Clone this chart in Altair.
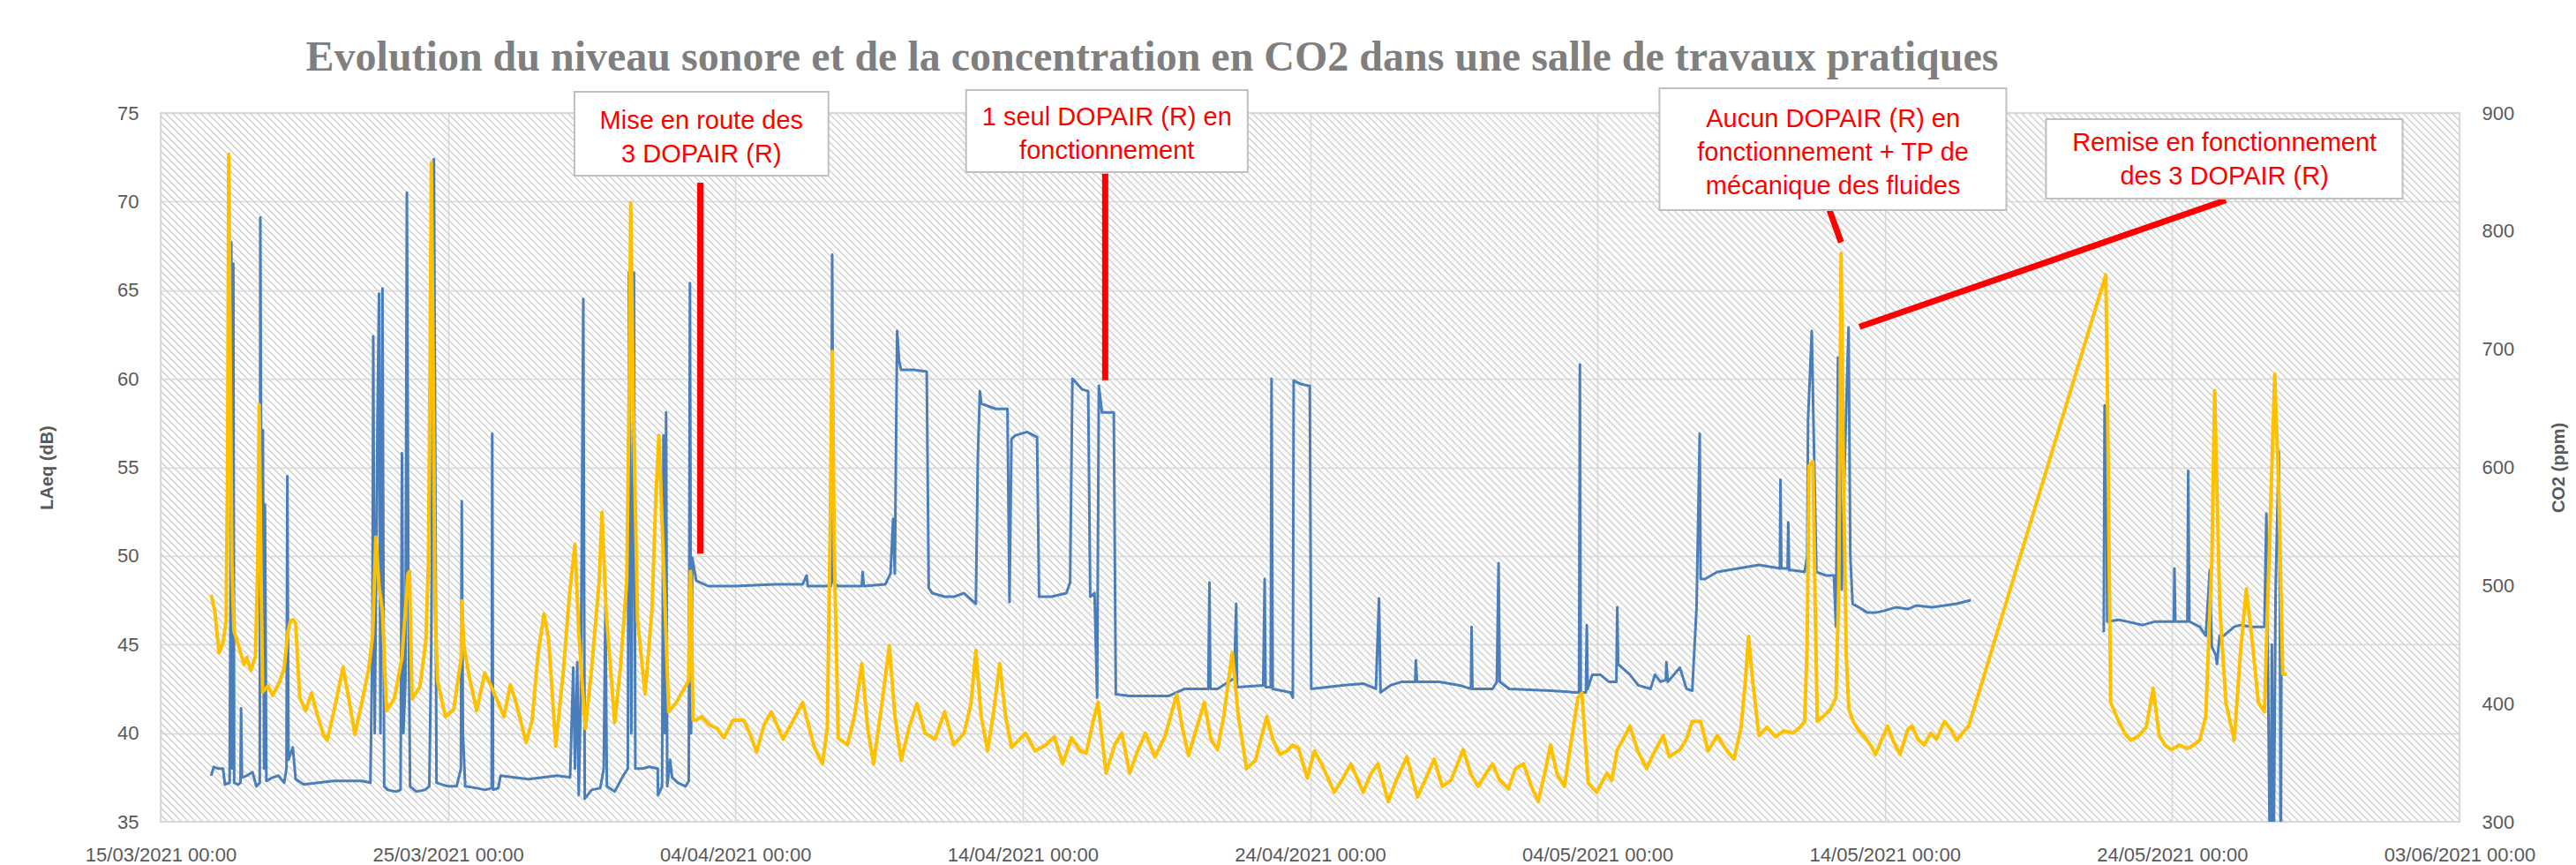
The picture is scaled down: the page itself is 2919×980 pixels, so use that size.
import altair as alt
import pandas as pd

# ---------------- data ----------------
tick_dates = ["2021-03-15", "2021-03-25", "2021-04-04", "2021-04-14", "2021-04-24",
              "2021-05-04", "2021-05-14", "2021-05-24", "2021-06-03"]
laeq_ticks = [35, 40, 45, 50, 55, 60, 65, 70, 75]
co2_ticks = [300, 400, 500, 600, 700, 800, 900]

# LAeq (dB) : days after 15/03/2021 00:00
laeq_days = [
    1.76, 1.85, 2.0, 2.17, 2.24, 2.4, 2.44, 2.46, 2.49, 2.53,
    2.56, 2.7, 2.78, 2.8, 2.83, 3.0, 3.2, 3.33, 3.45, 3.47,
    3.52, 3.56, 3.6, 3.63, 3.68, 3.9, 4.1, 4.3, 4.38, 4.41,
    4.45, 4.6, 4.7, 4.98, 5.5, 6.0, 6.5, 7.0, 7.3, 7.37,
    7.4, 7.45, 7.55, 7.6, 7.65, 7.72, 7.78, 7.9, 8.2, 8.35,
    8.4, 8.45, 8.52, 8.57, 8.62, 8.68, 8.9, 9.2, 9.35, 9.42,
    9.51, 9.56, 9.6, 10.0, 10.3, 10.45, 10.48, 10.52, 10.6, 11.0,
    11.3, 11.52, 11.54, 11.57, 11.75, 11.83, 12.3, 12.8, 13.3, 13.8,
    14.25, 14.36, 14.42, 14.5, 14.55, 14.62, 14.71, 14.76, 15.0, 15.3,
    15.42, 15.48, 15.53, 15.8, 16.1, 16.26, 16.3, 16.38, 16.47, 16.52,
    16.77, 17.0, 17.3, 17.31, 17.45, 17.5, 17.55, 17.59, 17.63, 17.73,
    17.8, 18.0, 18.27, 18.38, 18.42, 18.46, 18.5, 18.64, 19.05, 20.0,
    21.38, 22.34, 22.48, 22.52, 23.03, 23.33, 23.37, 23.42, 23.58, 24.4,
    24.43, 24.47, 25.22, 25.4, 25.49, 25.55, 25.63, 25.7, 25.77, 26.2,
    26.66, 26.73, 26.85, 27.28, 27.6, 27.96, 28.37, 28.44, 28.51, 28.56,
    29.06, 29.47, 29.54, 29.61, 29.74, 30.15, 30.5, 30.57, 31.0, 31.52,
    31.65, 31.73, 31.85, 32.07, 32.28, 32.35, 32.5, 32.59, 32.65, 32.76,
    33.17, 33.24, 33.72, 35.09, 35.64, 36.46, 36.5, 36.53, 36.78, 37.36,
    37.43, 37.46, 38.37, 38.42, 38.45, 38.63, 38.66, 38.7, 39.32, 39.4,
    39.43, 39.68, 39.99, 40.04, 41.13, 41.85, 42.29, 42.4, 42.45, 42.8,
    43.2, 43.66, 43.68, 43.72, 44.5, 45.2, 45.6, 45.62, 45.65, 46.35,
    46.5, 46.56, 46.6, 46.93, 48.37, 49.24, 49.36, 49.39, 49.42, 49.6,
    49.63, 49.66, 49.82, 50.1, 50.4, 50.66, 50.69, 50.72, 51.13, 51.42,
    51.85, 52.0, 52.2, 52.38, 52.4, 52.45, 52.87, 53.1, 53.3, 53.45,
    53.56, 53.59, 53.74, 54.17, 54.9, 55.62, 56.35, 56.37, 56.4, 56.62,
    56.64, 56.67, 56.78, 57.21, 57.3, 57.33, 57.46, 57.5, 57.62, 57.94,
    58.23, 58.3, 58.37, 58.45, 58.5, 58.6, 58.74, 58.8, 58.88, 59.1,
    59.4, 59.68, 59.96, 60.38, 60.8, 61.09, 61.65, 62.08, 62.5, 62.99,
    67.62, 67.65, 67.71, 67.74, 68.14, 68.42, 68.98, 69.41, 69.83, 70.06,
    70.08, 70.11, 70.53, 70.56, 70.6, 70.96, 71.17, 71.31, 71.38, 71.52,
    71.56, 71.65, 71.8, 72.16, 72.37, 72.79, 73.21, 73.28, 73.33, 73.42,
    73.47, 73.52, 73.6, 73.71, 73.75, 73.78, 73.8,
]
laeq_db = [
    37.6, 38.1, 38.0, 38.0, 37.1, 37.2, 50.0, 67.7, 38.0, 66.5,
    37.2, 37.1, 37.2, 41.4, 37.5, 37.6, 37.8, 37.0, 37.2, 69.1,
    45.0, 57.1, 38.0, 52.9, 37.3, 37.5, 37.6, 37.2, 38.0, 54.5,
    38.5, 39.2, 37.4, 37.1, 37.2, 37.3, 37.3, 37.3, 37.2, 45.0,
    62.4, 40.0, 58.0, 64.8, 40.0, 65.1, 37.0, 36.8, 36.7, 36.8,
    55.8, 40.0, 43.0, 70.5, 49.1, 37.0, 36.7, 36.8, 37.0, 45.0,
    72.4, 55.0, 37.2, 37.0, 37.0, 38.0, 53.1, 40.0, 37.0, 36.9,
    36.8, 36.9, 56.9, 36.8, 36.9, 37.6, 37.5, 37.4, 37.5, 37.6,
    37.5, 43.7, 38.0, 44.0, 36.5, 42.0, 64.5, 36.3, 36.8, 36.9,
    38.0, 47.2, 37.0, 36.7, 37.6, 38.0, 66.0, 40.0, 66.0, 38.0,
    38.0, 38.1, 38.0, 36.5, 37.0, 56.8, 40.0, 58.1, 37.0, 38.5,
    37.5, 37.2, 37.0, 37.3, 65.4, 40.0, 49.9, 48.6, 48.3, 48.3,
    48.4, 48.4, 48.9, 48.3, 48.3, 48.3, 67.0, 48.5, 48.3, 48.3,
    49.1, 48.3, 48.4, 49.0, 52.1, 49.0, 62.7, 61.0, 60.5, 60.5,
    60.4, 48.2, 47.9, 47.7, 47.7, 47.9, 47.3, 55.6, 59.3, 58.6,
    58.3, 58.3, 47.4, 56.6, 56.8, 57.0, 56.7, 47.7, 47.7, 47.9,
    48.5, 60.0, 59.8, 59.4, 59.3, 47.7, 47.9, 42.0, 59.6, 58.1,
    58.1, 42.2, 42.1, 42.1, 42.5, 42.5, 48.5, 42.5, 42.5, 43.1,
    47.3, 42.6, 42.7, 48.7, 42.6, 42.6, 60.0, 42.5, 42.3, 42.0,
    59.9, 59.7, 59.6, 42.5, 42.7, 42.8, 42.5, 47.6, 42.3, 42.7,
    42.9, 42.9, 44.1, 42.9, 42.9, 42.7, 42.5, 46.0, 42.5, 42.5,
    42.9, 49.6, 42.9, 42.5, 42.4, 42.3, 42.3, 60.8, 42.3, 42.3,
    46.1, 42.5, 43.3, 43.3, 42.9, 42.9, 47.1, 43.9, 43.3, 42.7,
    42.5, 43.3, 42.9, 43.0, 44.0, 42.9, 43.7, 42.5, 42.4, 47.1,
    56.9, 48.7, 48.7, 49.1, 49.3, 49.5, 49.3, 54.3, 49.3, 49.3,
    51.9, 49.2, 49.2, 49.1, 50.0, 57.7, 62.7, 59.1, 49.1, 48.9,
    48.9, 46.0, 61.2, 55.1, 48.1, 55.0, 62.9, 50.0, 47.3, 47.1,
    46.8, 46.8, 46.9, 47.1, 47.0, 47.2, 47.1, 47.2, 47.3, 47.5,
    45.7, 58.5, 58.0, 46.3, 46.4, 46.3, 46.1, 46.3, 46.3, 46.3,
    49.3, 46.3, 46.3, 54.8, 46.3, 46.0, 45.5, 49.2, 44.9, 44.4,
    43.9, 45.5, 45.5, 46.0, 46.1, 46.0, 46.0, 52.4, 44.4, 30.0,
    45.0, 30.0, 48.0, 55.9, 47.0, 30.0, 44.0,
]

# CO2 (ppm) : days after 15/03/2021 00:00
co2_days = [
    1.76, 1.89, 2.03, 2.17, 2.28, 2.33, 2.37, 2.42, 2.48, 2.55,
    2.7, 2.9, 3.0, 3.14, 3.3, 3.38, 3.43, 3.48, 3.55, 3.74,
    3.9, 4.15, 4.3, 4.43, 4.52, 4.61, 4.7, 4.84, 5.05, 5.25,
    5.4, 5.66, 5.8, 6.08, 6.35, 6.55, 6.76, 7.03, 7.24, 7.38,
    7.49, 7.6, 7.72, 7.86, 8.13, 8.4, 8.61, 8.66, 8.75, 9.02,
    9.23, 9.32, 9.38, 9.42, 9.48, 9.55, 9.64, 9.91, 10.2, 10.46,
    10.48, 10.55, 10.73, 11.0, 11.28, 11.48, 11.69, 11.95, 12.17, 12.38,
    12.72, 12.93, 13.13, 13.34, 13.5, 13.75, 14.02, 14.23, 14.42, 14.55,
    14.78, 15.0, 15.26, 15.36, 15.5, 15.8, 16.0, 16.22, 16.3, 16.36,
    16.45, 16.6, 16.86, 17.1, 17.24, 17.34, 17.5, 17.68, 17.95, 18.2,
    18.37, 18.44, 18.53, 18.64, 18.82, 19.1, 19.37, 19.6, 19.92, 20.29,
    20.5, 20.74, 21.0, 21.25, 21.66, 22.0, 22.34, 22.75, 23.03, 23.2,
    23.3, 23.37, 23.45, 23.58, 23.9, 24.15, 24.4, 24.6, 24.81, 25.1,
    25.36, 25.55, 25.77, 26.05, 26.32, 26.6, 26.95, 27.28, 27.6, 27.96,
    28.2, 28.37, 28.55, 28.78, 29.0, 29.2, 29.4, 29.61, 29.9, 30.1,
    30.43, 30.8, 31.1, 31.39, 31.7, 32.0, 32.21, 32.45, 32.62, 32.9,
    33.2, 33.45, 33.72, 34.0, 34.27, 34.6, 34.95, 35.36, 35.55, 35.77,
    36.0, 36.32, 36.55, 36.78, 37.0, 37.29, 37.5, 37.79, 38.1, 38.49,
    38.7, 38.95, 39.2, 39.39, 39.6, 39.9, 40.15, 40.4, 40.84, 41.1,
    41.42, 41.85, 42.1, 42.36, 42.72, 43.0, 43.37, 43.74, 44.0, 44.32,
    44.6, 44.9, 45.33, 45.6, 45.85, 46.1, 46.35, 46.6, 46.9, 47.15,
    47.43, 47.7, 47.94, 48.2, 48.37, 48.6, 48.85, 49.1, 49.32, 49.46,
    49.6, 49.68, 49.97, 50.33, 50.5, 50.69, 50.9, 51.13, 51.4, 51.71,
    52.0, 52.29, 52.5, 52.87, 53.1, 53.3, 53.59, 53.85, 54.17, 54.45,
    54.75, 55.0, 55.15, 55.26, 55.4, 55.62, 55.9, 56.2, 56.49, 56.8,
    57.05, 57.21, 57.3, 57.36, 57.5, 57.58, 57.65, 57.9, 58.1, 58.3,
    58.4, 58.48, 58.56, 58.66, 58.75, 58.9, 59.1, 59.26, 59.5, 59.68,
    59.9, 60.1, 60.3, 60.53, 60.8, 60.95, 61.15, 61.37, 61.6, 61.8,
    62.08, 62.3, 62.5, 62.7, 62.92, 67.69, 67.74, 67.86, 68.14, 68.35,
    68.56, 68.8, 69.1, 69.34, 69.55, 69.75, 69.97, 70.25, 70.53, 70.75,
    70.96, 71.17, 71.38, 71.48, 71.58, 71.66, 71.87, 72.16, 72.37, 72.58,
    72.8, 73.0, 73.21, 73.42, 73.57, 73.71, 73.85, 73.99,
]
co2_ppm = [
    492, 478, 443, 451, 470, 600, 865, 700, 520, 462,
    450, 433, 439, 428, 440, 520, 653, 540, 410, 415,
    407, 419, 430, 461, 470, 471, 468, 405, 394, 409,
    395, 374, 369, 399, 431, 404, 374, 404, 429, 458,
    541, 500, 478, 394, 404, 439, 510, 512, 404, 414,
    453, 520, 700, 858, 700, 480, 419, 389, 395, 439,
    487, 450, 424, 394, 426, 416, 404, 389, 416, 400,
    367, 386, 441, 476, 455, 364, 429, 493, 535, 460,
    379, 430, 503, 562, 480, 384, 430, 503, 650, 824,
    650, 470, 408, 480, 579, 627, 520, 393, 401, 412,
    419, 512, 386, 386, 389, 382, 379, 371, 386, 386,
    375, 359, 382, 393, 370, 385, 401, 363, 349, 380,
    550, 698, 520, 371, 365, 390, 434, 380, 349, 400,
    449, 390, 352, 380, 400, 375, 370, 393, 365, 375,
    400, 445, 390, 360, 395, 434, 390, 363, 370, 375,
    360, 365, 372, 349, 371, 360, 358, 385, 401, 341,
    365, 375, 341, 360, 375, 355, 372, 408, 380, 356,
    375, 401, 370, 361, 390, 443, 390, 345, 352, 389,
    370, 357, 360, 365, 362, 337, 360, 349, 325, 335,
    349, 325, 340, 349, 317, 335, 355, 321, 335, 353,
    330, 335, 361, 340, 330, 340, 349, 335, 328, 345,
    349, 330, 317, 345, 365, 340, 330, 370, 405, 409,
    360, 333, 325, 341, 335, 361, 370, 381, 360, 345,
    360, 373, 355, 361, 370, 385, 385, 360, 373, 362,
    353, 380, 420, 457, 420, 373, 380, 372, 377, 375,
    380, 385, 450, 601, 605, 480, 385, 390, 395, 405,
    500, 781, 600, 441, 395, 385, 377, 373, 365, 357,
    370, 381, 368, 357, 378, 381, 370, 365, 375, 370,
    385, 378, 369, 375, 381, 763, 681, 401, 385, 375,
    369, 372, 380, 413, 373, 365, 361, 365, 362, 365,
    369, 389, 521, 665, 560, 481, 401, 369, 441, 497,
    450, 401, 393, 561, 679, 581, 425, 425,
]

# annotations (in data units of the left axis); note_db is the first text line
note_text = ["Mise en route des\n3 DOPAIR (R)",
             "1 seul DOPAIR (R) en\nfonctionnement",
             "Aucun DOPAIR (R) en\nfonctionnement + TP de\nmécanique des fluides",
             "Remise en fonctionnement\ndes 3 DOPAIR (R)"]
note_day = [18.82, 32.93, 58.20, 71.82]
note_db = [74.55, 74.75, 74.65, 73.31]
box_day_left = [14.40, 28.03, 52.16, 65.61]
box_day_right = [23.24, 37.83, 64.23, 78.02]
box_db_top = [76.20, 76.30, 76.39, 74.65]
box_db_bottom = [71.46, 71.66, 69.52, 70.17]
arrow_day_start = [18.78, 32.87, 58.08, 59.12]
arrow_db_start = [71.07, 71.57, 69.50, 62.93]
arrow_day_end = [18.78, 32.87, 58.48, 71.87]
arrow_db_end = [50.13, 59.92, 67.70, 70.08]

TITLE = "Evolution du niveau sonore et de la concentration en CO2 dans une salle de travaux pratiques"

# ---------------- build tables ----------------
t0 = pd.Timestamp(tick_dates[0])


def to_time(days):
    return [(t0 + pd.Timedelta(days=d)).round("min") for d in days]


def dt(s):
    ts = pd.Timestamp(s)
    return alt.DateTime(year=ts.year, month=ts.month, date=ts.day)


laeq = pd.DataFrame({"t": to_time(laeq_days), "v": laeq_db})
laeq["seg"] = (laeq["t"].diff() > pd.Timedelta(days=2)).cumsum()
co2 = pd.DataFrame({"t": to_time(co2_days), "ppm": co2_ppm})
notes = pd.DataFrame({"t": to_time(note_day), "v": note_db, "label": note_text})
boxes = pd.DataFrame({"t": to_time(box_day_left), "t2": to_time(box_day_right),
                      "v": box_db_top, "v2": box_db_bottom})
arrows = pd.DataFrame({"t": to_time(arrow_day_start), "t2": to_time(arrow_day_end),
                       "v": arrow_db_start, "v2": arrow_db_end})

W, H = 2605, 803
GREY = "#595959"
FONT = "Liberation Sans"

x_enc = alt.X(
    "t:T",
    scale=alt.Scale(domain=[dt(tick_dates[0]), dt(tick_dates[-1])], nice=False),
    axis=alt.Axis(values=[dt(s) for s in tick_dates], format="%d/%m/%Y %H:%M",
                  labelFontSize=22, labelColor=GREY, labelFont=FONT, labelPadding=27,
                  labelFlush=False, labelOverlap=False, labelBaseline="top",
                  ticks=False, tickSize=0, domain=False, grid=True,
                  gridColor="#d9d9d9", gridWidth=1.5, title=None),
)
y_left = alt.Y(
    "v:Q",
    scale=alt.Scale(domain=[35, 75], nice=False, zero=False),
    axis=alt.Axis(values=laeq_ticks, title="LAeq (dB)", titleFontSize=20, titleFont=FONT,
                  titleFontWeight="bold", titleColor=GREY, titleAngle=270, titleX=-123,
                  titleY=H / 2, titleAlign="center", titleBaseline="alphabetic",
                  labelFontSize=22, labelColor=GREY, labelFont=FONT, labelPadding=25,
                  ticks=False, tickSize=0, domain=False, grid=True,
                  gridColor="#d9d9d9", gridWidth=1.5),
)

# diagonal hatch of the plot background (style only)
hatch = alt.Chart(alt.sequence(0, 430, as_="k")).transform_calculate(
    t="time(datetime(2021, 2, 15)) + (datum.k * 0.2456 - 24.65) * 86400000",
    t2="time(datetime(2021, 2, 15)) + datum.k * 0.2456 * 86400000",
    v="75",
    v2="35",
).mark_rule(clip=True, stroke="#d4d4d4", strokeWidth=1.6).encode(
    x=x_enc, x2="t2:T", y=y_left, y2="v2:Q")

blue = alt.Chart(laeq).mark_line(clip=True, color="#4a7ebb", strokeWidth=3,
                                 strokeJoin="round").encode(
    x=x_enc, y=y_left, detail="seg:N")

arrow_rules = alt.Chart(arrows).mark_rule(color="#ff0000", strokeWidth=7).encode(
    x=x_enc, x2="t2:T", y=y_left, y2="v2:Q")

box_rects = alt.Chart(boxes).mark_rect(fill="white", stroke="#bfbfbf", strokeWidth=2).encode(
    x=x_enc, x2="t2:T", y=y_left, y2="v2:Q")

note_texts = alt.Chart(notes).mark_text(
    color="#ff0000", font=FONT, fontSize=29, lineBreak="\n", lineHeight=38,
    align="center", baseline="middle").encode(x=x_enc, y=y_left, text="label:N")

left_group = alt.layer(hatch, blue, arrow_rules, box_rects, note_texts)

yellow = alt.Chart(co2).mark_line(clip=True, color="#ffc000", strokeWidth=4,
                                  strokeJoin="round").encode(
    x=x_enc,
    y=alt.Y("ppm:Q",
            scale=alt.Scale(domain=[300, 900], nice=False, zero=False),
            axis=alt.Axis(orient="right", values=co2_ticks, title="CO2 (ppm)",
                          titleFontSize=20, titleFont=FONT, titleFontWeight="bold",
                          titleColor=GREY, titleAngle=270, titleX=118, titleY=H / 2,
                          titleAlign="center", titleBaseline="alphabetic",
                          labelFontSize=22, labelColor=GREY, labelFont=FONT,
                          labelPadding=25, ticks=False, tickSize=0, domain=False,
                          grid=False)),
)

chart = alt.layer(left_group, yellow).resolve_scale(y="independent").properties(
    width=W,
    height=H,
    padding={"left": 174, "top": 120, "right": 124, "bottom": 48},
    autosize=alt.AutoSizeParams(type="none"),
    background="white",
    title=alt.TitleParams(text=TITLE, font="Liberation Serif", fontSize=48,
                          fontWeight="bold", color="#7f7f7f", anchor="middle",
                          frame="group", dx=-179, dy=49, offset=20, baseline="alphabetic"),
).configure_view(stroke="#d9d9d9", strokeWidth=2)

chart.save("out.html", embed_options={"renderer": "svg", "actions": False})
